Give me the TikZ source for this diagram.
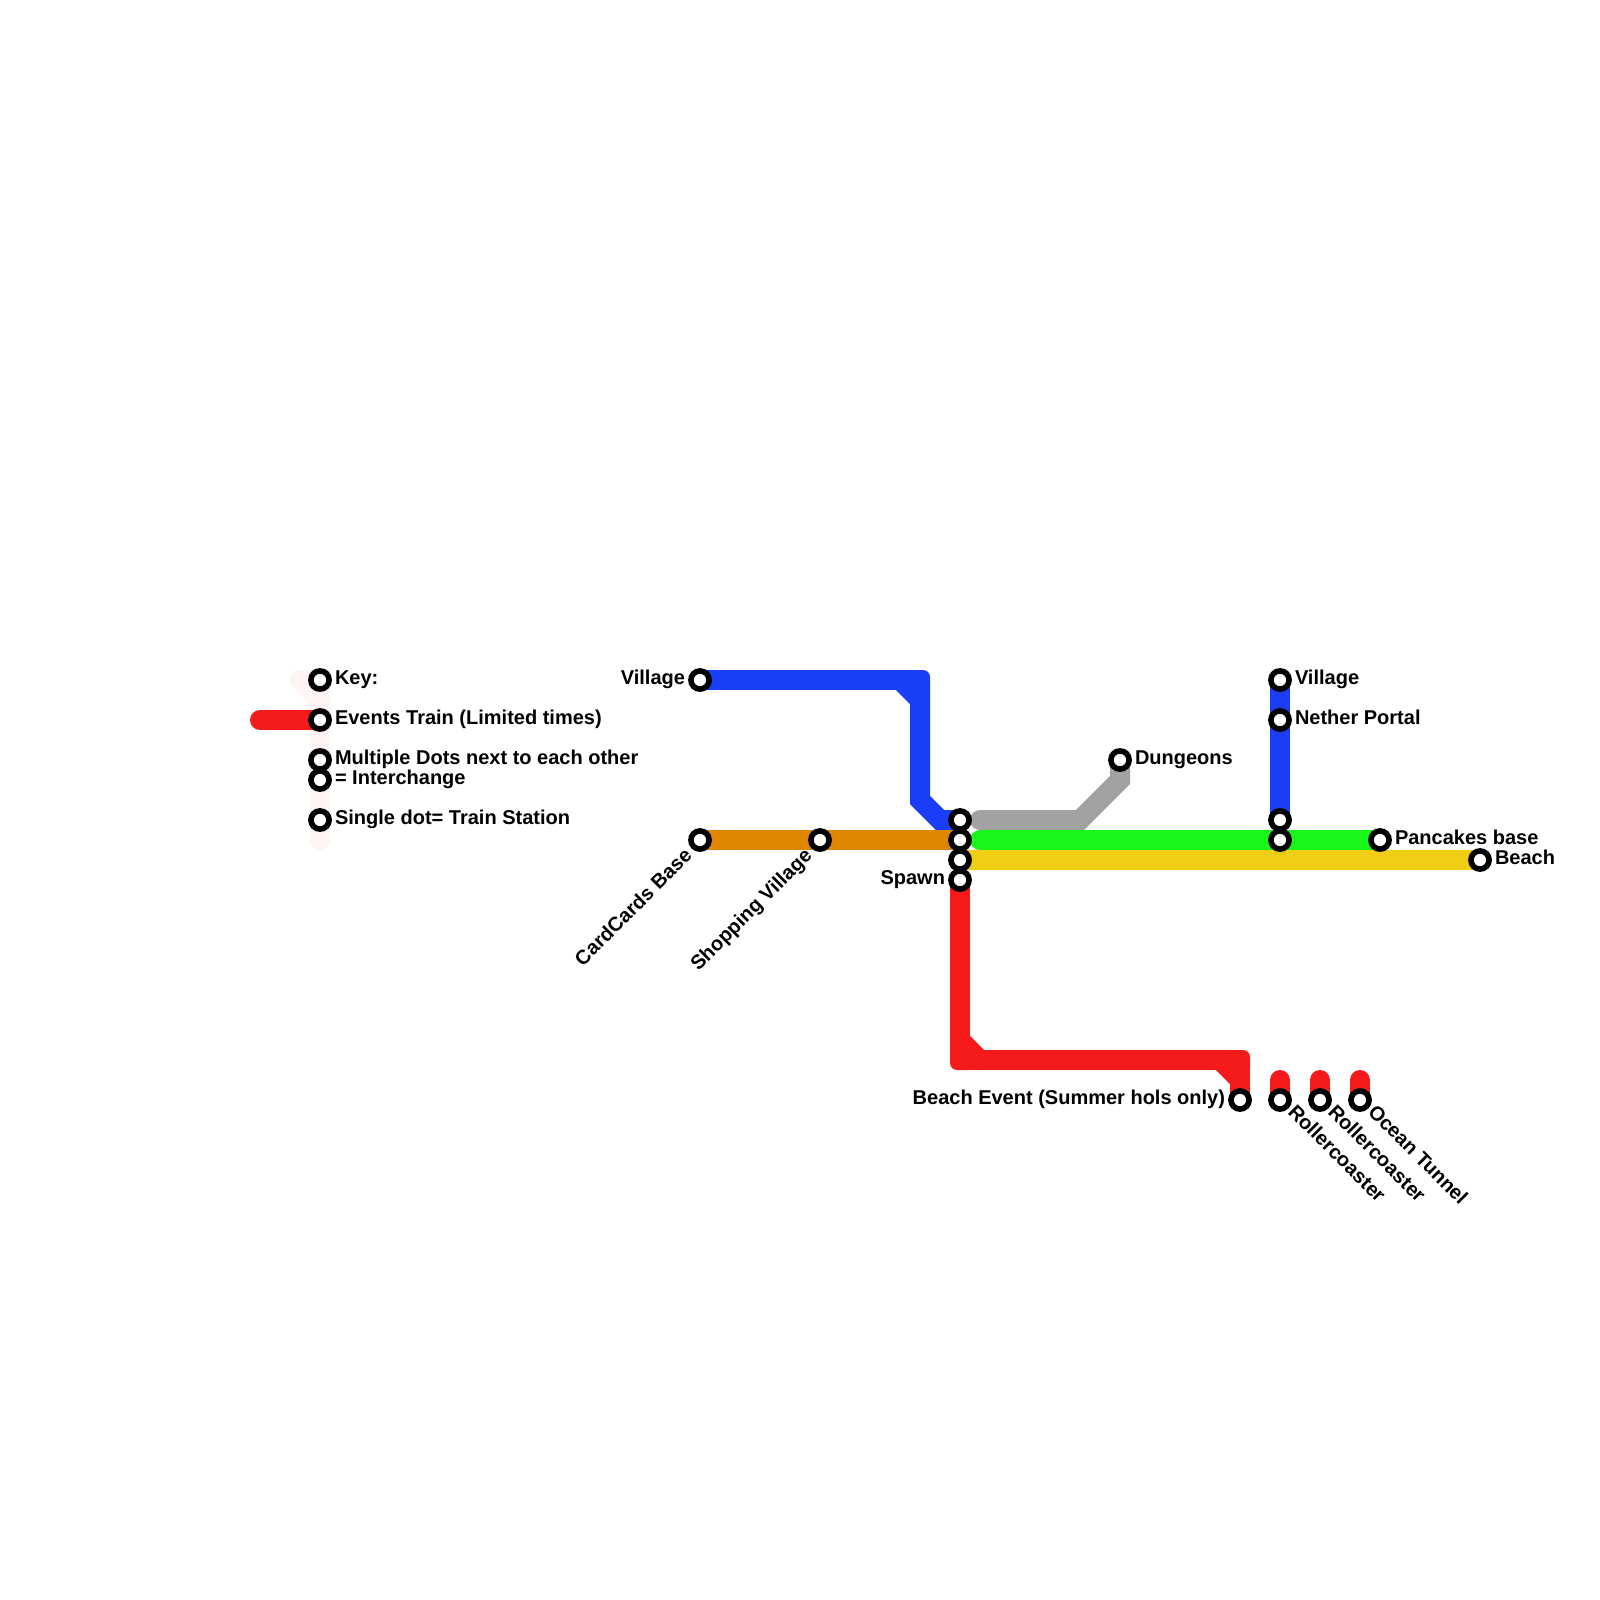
\documentclass[tikz,border=0pt]{standalone}
\usepackage{fontspec}
\setmainfont{Liberation Sans}
\pgfdeclarelayer{lines}
\pgfsetlayers{lines,main}
\definecolor{cred}{HTML}{F51B1B}
\definecolor{cblue}{HTML}{1A3EF5}
\definecolor{corange}{HTML}{DF8600}
\definecolor{cgreen}{HTML}{19F619}
\definecolor{cyellow}{HTML}{F0CE15}
\definecolor{cgray}{HTML}{A2A2A2}
\definecolor{cpale}{HTML}{FFF4F4}
\tikzset{
  station/.style={circle,draw=black,fill=white,line width=2.8pt,minimum size=9.1pt,inner sep=0pt,outer sep=0pt},
  route/.style={line width=10pt,line cap=round,line join=miter},
  lab/.style={inner sep=0pt,outer sep=0pt,font=\fontsize{10}{11}\selectfont\bfseries},
}
\begin{document}
\begin{tikzpicture}[x=0.5pt,y=-0.5pt]
\useasboundingbox (0,0) rectangle (1600,1600);
% stations
\node[station] (key) at (320,680) {};
\node[station] (events) at (320,720) {};
\node[station] (multi) at (320,760) {};
\node[station] (inter) at (320,780) {};
\node[station] (single) at (320,820) {};
\node[station] (villageL) at (700,680) {};
\node[station] (card) at (700,840) {};
\node[station] (shop) at (820,840) {};
\node[station] (hubA) at (960,820) {};
\node[station] (hubB) at (960,840) {};
\node[station] (hubC) at (960,860) {};
\node[station] (spawn) at (960,880) {};
\node[station] (dungeons) at (1120,760) {};
\node[station] (villageR) at (1280,680) {};
\node[station] (nether) at (1280,720) {};
\node[station] (intA) at (1280,820) {};
\node[station] (intB) at (1280,840) {};
\node[station] (pancakes) at (1380,840) {};
\node[station] (beach) at (1480,860) {};
\node[station] (beachEv) at (1240,1100) {};
\node[station] (rollA) at (1280,1100) {};
\node[station] (rollB) at (1320,1100) {};
\node[station] (ocean) at (1360,1100) {};
% free line ends and bends
\coordinate (eventsEnd) at (260,720);
\coordinate (paleA) at (300,680);
\coordinate (paleB) at (320,700);
\coordinate (paleEnd) at (320,840);
\coordinate (blueA0) at (916,680);
\coordinate (blueA3) at (920,684);
\coordinate (blueA1) at (900,680);
\coordinate (blueA2) at (920,700);
\coordinate (blueB) at (920,800);
\coordinate (blueC) at (940,820);
\coordinate (grayStart) at (980,820);
\coordinate (grayA) at (1080,820);
\coordinate (greenStart) at (980,840);
\coordinate (redA0) at (960,1056);
\coordinate (redA3) at (964,1060);
\coordinate (redA1) at (960,1040);
\coordinate (redA2) at (980,1060);
\coordinate (redB0) at (1236,1060);
\coordinate (redB3) at (1240,1064);
\coordinate (redB1) at (1220,1060);
\coordinate (redB2) at (1240,1080);
\coordinate (stubA) at (1280,1080);
\coordinate (stubB) at (1320,1080);
\coordinate (stubC) at (1360,1080);
\coordinate (dunA) at (1120,780);
\begin{pgfonlayer}{lines}
\draw[route,cpale,line join=round] (key.center) -- (paleA) -- (paleB) -- (events.center);
\draw[route,cpale] (key.center) -- (events.center);
\draw[route,cpale] (events.center) -- (paleEnd);
\draw[route,cred] (eventsEnd) -- (events.center);
\draw[route,cblue] (villageL.center) -- (blueA0);
\draw[route,cblue] (blueA3) -- (blueB) -- (blueC) -- (hubA.center);
\fill[cblue,rounded corners=3.5pt] (906,670) -- (930,670) -- (930,694) -- (906,694) -- cycle;
\draw[route,cblue] (blueA1) -- (blueA2);
\draw[route,cblue] (villageR.center) -- (nether.center) -- (intA.center);
\draw[route,corange] (card.center) -- (shop.center) -- (hubB.center);
\draw[route,cgray] (grayStart) -- (grayA) -- (dunA) -- (dungeons.center);
\draw[route,cyellow] (hubC.center) -- (beach.center);
\draw[route,cgreen] (greenStart) -- (intB.center) -- (pancakes.center);
\draw[route,cred] (spawn.center) -- (redA0);
\draw[route,cred] (redA3) -- (redB0);
\draw[route,cred] (redB3) -- (beachEv.center);
\fill[cred,rounded corners=3.5pt] (950,1046) -- (950,1070) -- (974,1070) -- (974,1046) -- cycle;
\fill[cred,rounded corners=3.5pt] (1226,1050) -- (1250,1050) -- (1250,1074) -- (1226,1074) -- cycle;
\draw[route,cred] (redA1) -- (redA2);
\draw[route,cred] (redB1) -- (redB2);
\draw[route,cred] (stubA) -- (rollA.center);
\draw[route,cred] (stubB) -- (rollB.center);
\draw[route,cred] (stubC) -- (ocean.center);
\end{pgfonlayer}
% labels
\node[lab,anchor=base west] (tKey) at (335,684.5) {Key:};
\node[lab,anchor=base west] (tEvents) at (335,724.5) {Events Train (Limited times)};
\node[lab,anchor=base west] (tMulti) at (335,764.5) {Multiple Dots next to each other};
\node[lab,anchor=base west] (tInter) at (335,784.5) {= Interchange};
\node[lab,anchor=base west] (tSingle) at (335,824.5) {Single dot= Train Station};
\node[lab,anchor=base east] (tVillageL) at (685,684.5) {Village};
\node[lab,anchor=base east] (tSpawn) at (945,884.5) {Spawn};
\node[lab,anchor=base east] (tBeachEv) at (1225,1104.5) {Beach Event (Summer hols only)};
\node[lab,anchor=base west] (tDungeons) at (1135,764.5) {Dungeons};
\node[lab,anchor=base west] (tVillageR) at (1295,684.5) {Village};
\node[lab,anchor=base west] (tNether) at (1295,724.5) {Nether Portal};
\node[lab,anchor=base west] (tPancakes) at (1395,844.5) {Pancakes base};
\node[lab,anchor=base west] (tBeach) at (1495,864.5) {Beach};
\node[lab,anchor=base east,rotate=45] (tCard) at (693,857) {CardCards Base};
\node[lab,anchor=base east,rotate=45] (tShop) at (813,857) {Shopping Village};
\node[lab,anchor=base west,rotate=-45] (tRollA) at (1287,1113) {Rollercoaster};
\node[lab,anchor=base west,rotate=-45] (tRollB) at (1327,1113) {Rollercoaster};
\node[lab,anchor=base west,rotate=-45] (tOcean) at (1367,1113) {Ocean Tunnel};
\end{tikzpicture}
\end{document}
